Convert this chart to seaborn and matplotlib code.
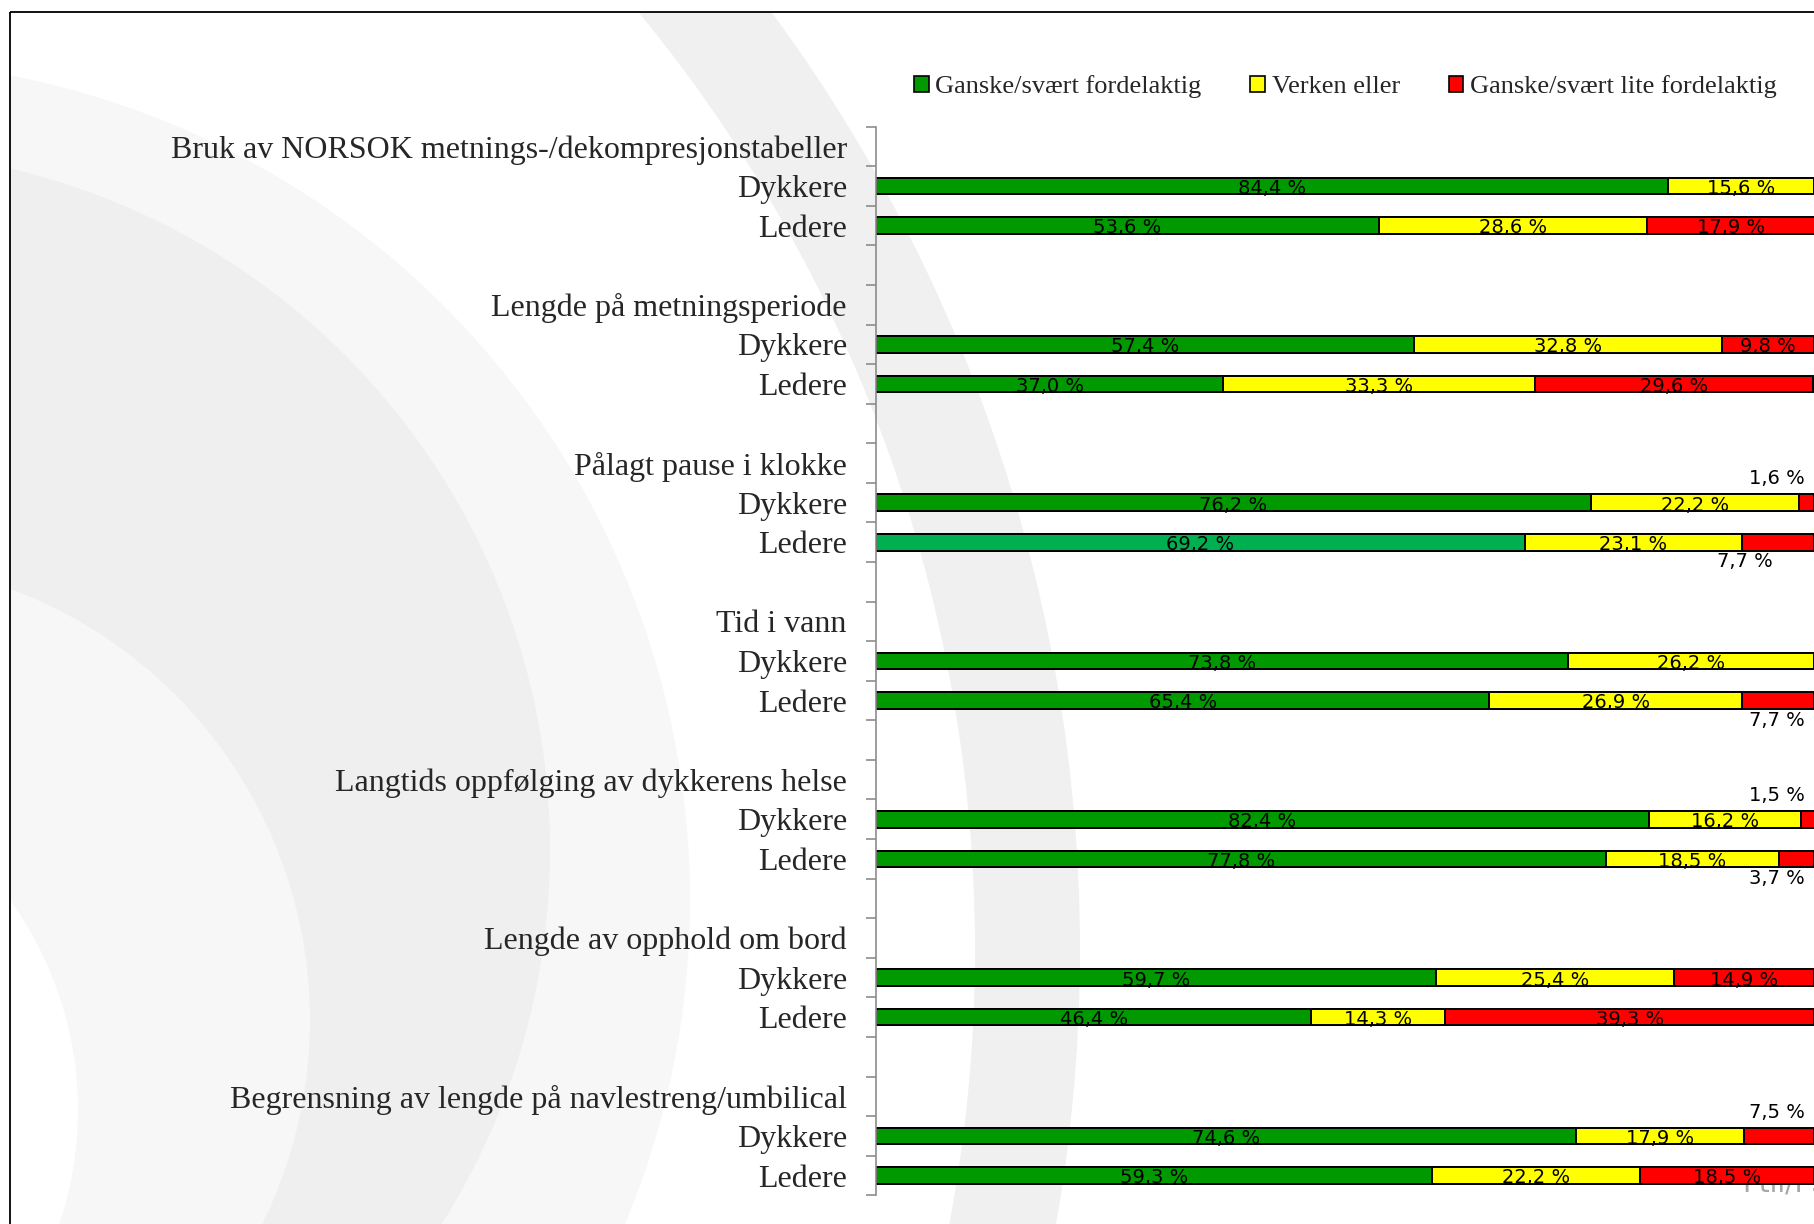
import numpy as np
import pandas as pd
import matplotlib
matplotlib.use("Agg")
import matplotlib.pyplot as plt
from matplotlib.patches import Circle, Wedge, Rectangle, Patch
from matplotlib.font_manager import FontProperties
import seaborn as sns

# ---- data -------------------------------------------------------------
topics = [
    "Bruk av NORSOK metnings-/dekompresjonstabeller",
    "Lengde på metningsperiode",
    "Pålagt pause i klokke",
    "Tid i vann",
    "Langtids oppfølging av dykkerens helse",
    "Lengde av opphold om bord",
    "Begrensning av lengde på navlestreng/umbilical",
]
respondents = ["Dykkere", "Ledere"]
series = ["Ganske/svært fordelaktig", "Verken eller", "Ganske/svært lite fordelaktig"]

favourable_dykkere = [84.4, 57.4, 76.2, 73.8, 82.4, 59.7, 74.6]
neutral_dykkere = [15.6, 32.8, 22.2, 26.2, 16.2, 25.4, 17.9]
unfavourable_dykkere = [0.0, 9.8, 1.6, 0.0, 1.5, 14.9, 7.5]

favourable_ledere = [53.6, 37.0, 69.2, 65.4, 77.8, 46.4, 59.3]
neutral_ledere = [28.6, 33.3, 23.1, 26.9, 18.5, 14.3, 22.2]
unfavourable_ledere = [17.9, 29.6, 7.7, 7.7, 3.7, 39.3, 18.5]

# ---- styling ----------------------------------------------------------
GREEN = "#009900"
GREEN_ALT = "#00B050"
YELLOW = "#FFFF00"
RED = "#FF0000"
SERIF = "Liberation Serif"
SANS = "DejaVu Sans"

sns.set_style("white")
plt.rcParams["font.family"] = [SERIF, "DejaVu Serif"]

# ---- build one row per axis slot (topic title, two respondent rows, gap)
values = {
    "Dykkere": (favourable_dykkere, neutral_dykkere, unfavourable_dykkere),
    "Ledere": (favourable_ledere, neutral_ledere, unfavourable_ledere),
}
rows = []
for i, topic in enumerate(topics):
    rows.append(dict(key=f"{i}-title", label=topic, topic=topic, who=None,
                     fav=np.nan, neu=np.nan, unf=np.nan, shade="std"))
    for who in respondents:
        fav, neu, unf = (v[i] for v in values[who])
        shade = "alt" if (topic == "Pålagt pause i klokke" and who == "Ledere") else "std"
        rows.append(dict(key=f"{i}-{who}", label=who, topic=topic, who=who,
                         fav=fav, neu=neu, unf=unf, shade=shade))
    if i < len(topics) - 1:
        rows.append(dict(key=f"{i}-gap", label="", topic=topic, who=None,
                         fav=np.nan, neu=np.nan, unf=np.nan, shade="std"))
df = pd.DataFrame(rows)
df["cum_green"] = df["fav"]
df["cum_yellow"] = df["fav"] + df["neu"]
df["cum_red"] = df["fav"] + df["neu"] + df["unf"]
order = list(df["key"])

# ---- figure -----------------------------------------------------------
W, H = 1814, 1224
fig = plt.figure(figsize=(W / 100, H / 100), dpi=100)
fig.patch.set_facecolor("white")

# decorative background rings
bg = fig.add_axes([0, 0, 1, 1], zorder=-5)
bg.set_xlim(0, W)
bg.set_ylim(H, 0)
bg.axis("off")
frame_clip = Rectangle((10, 12), W - 10, H - 12, transform=bg.transData)
rings = [
    Wedge((-500, 950), 1580, 0, 360, width=105, facecolor="#f0f0f0", edgecolor="none"),
    Circle((-150, 900), 840, facecolor="#f7f7f7", edgecolor="none"),
    Circle((-150, 850), 700, facecolor="#efefef", edgecolor="none"),
    Circle((-150, 1020), 460, facecolor="#f7f7f7", edgecolor="none"),
    Circle((-280, 1110), 358, facecolor="white", edgecolor="none"),
]
for r in rings:
    bg.add_patch(r)
    r.set_clip_path(frame_clip)
bg.plot([10, 10], [12, H], color="black", lw=1.3, solid_capstyle="butt")
bg.plot([10, W], [12, 12], color="black", lw=1.3, solid_capstyle="butt")

fig.text(1742 / W, 1 - 1191 / H, "Ptil/PSA", color="#a6a6a6", fontsize=20,
         family=SANS, ha="left", va="baseline", zorder=-1)

# main bar axes
top_px, bottom_px, left_px = 126.6, 1195.3, 876
ax = fig.add_axes([left_px / W, 1 - bottom_px / H, (W - left_px) / W,
                   (bottom_px - top_px) / H])
ax.set_facecolor("none")

bar_kw = dict(y="key", order=order, orient="h", width=0.42, errorbar=None,
              saturation=1, edgecolor="black", linewidth=1.4, ax=ax)
sns.barplot(data=df, x="cum_red", color=RED, **bar_kw)
sns.barplot(data=df, x="cum_yellow", color=YELLOW, **bar_kw)
sns.barplot(data=df, x="cum_green", hue="shade", palette={"std": GREEN, "alt": GREEN_ALT},
            dodge=False, legend=False, **bar_kw)

ax.set_xlim(0, 100)
ax.set_ylim(len(order) - 0.5, -0.5)

# category axis: labels at slot centres, tick marks between slots
ax.set_yticks(range(len(order)))
ax.set_yticklabels(df["label"], fontsize=23.0, family=SERIF)
ax.set_yticks(np.arange(-0.5, len(order), 1.0), minor=True)
ax.tick_params(axis="y", which="major", length=0, pad=21)
ax.tick_params(axis="y", which="minor", left=True, length=6.9, width=1.2, color="#8c8c8c")
ax.set_ylabel("")
ax.set_xlabel("")
ax.xaxis.set_visible(False)
for side in ("top", "right", "bottom"):
    ax.spines[side].set_visible(False)
ax.spines["left"].set_color("#8c8c8c")
ax.spines["left"].set_linewidth(1.2)
ax.grid(False)

# value labels
def fmt(v):
    return f"{v:.1f} %".replace(".", ",")

outside_x = 96.0
outside_nudge = {("Pålagt pause i klokke", "Ledere"): -3.4}
for yi, row in df.iterrows():
    if row["who"] is None:
        continue
    start = 0.0
    for v in (row["fav"], row["neu"], row["unf"]):
        if v > 0:
            if v >= 9:
                ax.text(start + v / 2, yi + 0.2, fmt(v), ha="center", va="baseline",
                        fontsize=14, family=SANS, color="black", clip_on=False)
            else:
                x = outside_x + outside_nudge.get((row["topic"], row["who"]), 0.0)
                dy = -0.6 if row["who"] == "Dykkere" else 0.5
                ax.text(x, yi + dy, fmt(v), ha="center", va="center",
                        fontsize=14, family=SANS, color="black", clip_on=False)
        start += v

# legend
handles = [Patch(facecolor=c, edgecolor="black", linewidth=1.2) for c in (GREEN, YELLOW, RED)]
fig.legend(handles, series, loc="center left", bbox_to_anchor=(914 / W, 1 - 86.5 / H),
           ncol=3, frameon=False, prop=FontProperties(family=SERIF, size=19),
           handlelength=0.55, handleheight=0.55, handletextpad=0.25,
           columnspacing=1.86, borderpad=0, borderaxespad=0)

fig.savefig("out.png", dpi=100, facecolor="white")
